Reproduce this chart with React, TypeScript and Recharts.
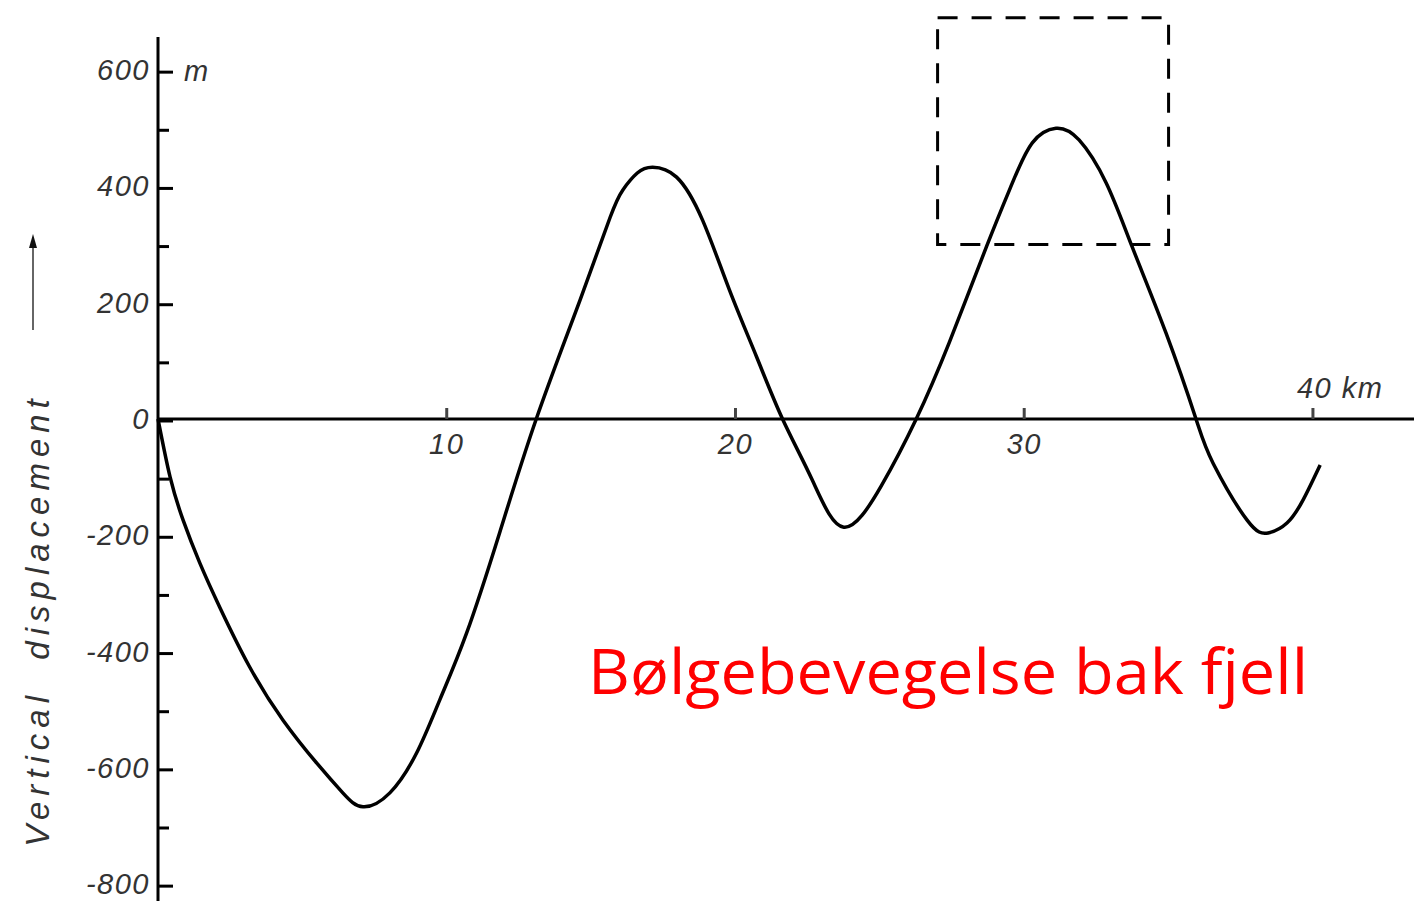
import React from 'react';
import {
    LineChart,
    Line,
    XAxis,
    YAxis,
    ReferenceLine,
    ReferenceArea,
    ReferenceDot
} from 'recharts';

// distance along the ground (km) and vertical displacement (m)
const distanceKm = [
    0, 0.42, 0.87, 1.45, 2.15, 3.18, 4.33, 5.5, 6.4, 7.1, 8.03, 8.96, 9.76, 10.69, 11.83,
    13.1, 14.62, 15.66, 16.1, 16.6, 17.13, 17.96, 18.86, 19.79, 20.73, 21.63, 22.66,
    23.75, 25.05, 26.26, 27.4, 28.69, 29.59, 30.28, 31.1, 31.9, 32.84, 33.74, 34.91,
    35.95, 36.55, 37.72, 38.45, 39.1, 39.66, 40.25
];
const displacementM = [
    0, -100, -174, -248, -325, -427, -518, -592, -643, -667, -643, -574, -483, -368, -196,
    0, 205, 347, 394, 423, 433, 416, 342, 222, 107, 0, -105,
    -186, -115, 0, 131, 296, 406, 475, 500, 480, 406, 296, 148,
    0, -77, -174, -196, -179, -139, -79
];

const yTicks = [-800, -700, -600, -500, -400, -300, -200, -100, 0, 100, 200, 300, 400, 500, 600];
const xTicks = [10, 20, 30, 40];
const xTickLabels = ['10', '20', '30', '40 km'];

// the dashed box around the second crest
const boxKm = [27, 35];
const boxM = [300, 690];

const data = distanceKm.map((km, i) => ({ km, disp: displacementM[i] }));

const labelFont = '"Liberation Sans", Arial, sans-serif';

const YTick = (props: any) => {
    const { x, y, payload } = props;
    const v = payload.value;
    const major = v % 200 === 0;
    return (
        <g>
            <line x1={x} y1={y + 2} x2={x + (major ? 15 : 11)} y2={y + 2} stroke="#000" strokeWidth={3} />
            {major && (
                <text
                    x={x - 8}
                    y={y + 10}
                    textAnchor="end"
                    fontFamily={labelFont}
                    fontStyle="italic"
                    fontSize={29}
                    letterSpacing={1.5}
                    fill="#333"
                >
                    {v}
                </text>
            )}
        </g>
    );
};

const XTickMark = (label: string, above: boolean) => (props: any) => {
    const { cx, cy } = props;
    return (
        <g>
            <line x1={cx} y1={cy} x2={cx} y2={cy - 11} stroke="#444" strokeWidth={3} />
            <text
                x={above ? cx - 16 : cx}
                y={above ? cy - 21 : cy + 35}
                textAnchor={above ? 'start' : 'middle'}
                fontFamily={labelFont}
                fontStyle="italic"
                fontSize={29}
                letterSpacing={1.5}
                fill="#333"
            >
                {label}
            </text>
        </g>
    );
};

export default function App() {
    return (
        <div style={{ position: 'absolute', left: 0, top: 0, width: 1414, height: 901, background: '#fff' }}>
            <LineChart
                width={1414}
                height={901}
                data={data}
                margin={{ top: 37, right: 0, bottom: 0, left: 0 }}
            >
                <XAxis dataKey="km" type="number" domain={[0, 43.5]} hide />
                <YAxis
                    type="number"
                    domain={[-829, 657]}
                    ticks={yTicks}
                    interval={0}
                    width={158}
                    tickSize={0}
                    tickMargin={0}
                    tickLine={false}
                    axisLine={{ stroke: '#000', strokeWidth: 3 }}
                    tick={<YTick />}
                />

                <ReferenceLine y={0} stroke="#000" strokeWidth={3} />
                {xTicks.map((t, i) => (
                    <ReferenceDot
                        key={t}
                        x={t}
                        y={0}
                        r={0}
                        shape={XTickMark(xTickLabels[i], i === xTicks.length - 1)}
                    />
                ))}

                <ReferenceArea
                    x1={boxKm[0]}
                    x2={boxKm[1]}
                    y1={boxM[0]}
                    y2={boxM[1]}
                    fill="none"
                    fillOpacity={0}
                    stroke="#000"
                    strokeWidth={3}
                    strokeDasharray="20 14"
                    ifOverflow="visible"
                />

                <Line
                    type="natural"
                    dataKey="disp"
                    stroke="#000"
                    strokeWidth={3.5}
                    dot={false}
                    activeDot={false}
                    isAnimationActive={false}
                />

                {/* unit next to the top tick */}
                <text x={184} y={81} fontFamily={labelFont} fontStyle="italic" fontSize={29} fill="#333">m</text>

                {/* axis title with the little arrow */}
                <line x1={33} y1={330} x2={33} y2={246} stroke="#333" strokeWidth={1.5} />
                <polygon points="33,234 29,248 37,248" fill="#111" />
                <text
                    transform="translate(49,620) rotate(-90)"
                    textAnchor="middle"
                    fontFamily={labelFont}
                    fontStyle="italic"
                    fontSize={33}
                    letterSpacing={6}
                    fill="#333"
                    style={{ whiteSpace: 'pre' }}
                >
                    Vertical  displacement
                </text>

                <text
                    x={588}
                    y={694}
                    fontFamily='"Open Sans", "Noto Sans", sans-serif'
                    fontSize={62}
                    fill="#ff0000"
                    textLength={720}
                    lengthAdjust="spacingAndGlyphs"
                >
                    Bølgebevegelse bak fjell
                </text>
            </LineChart>
        </div>
    );
}
